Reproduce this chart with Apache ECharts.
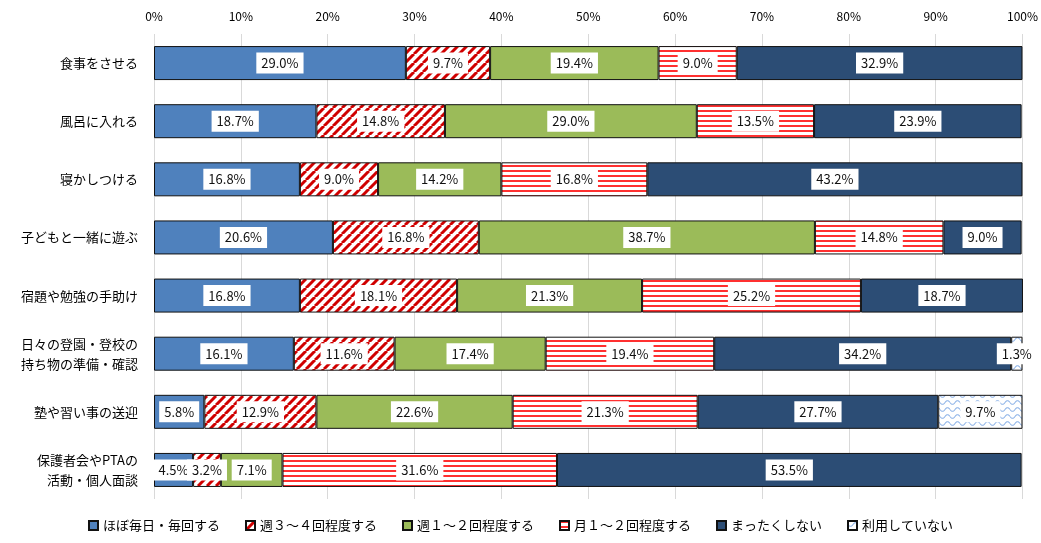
<!DOCTYPE html>
<html><head><meta charset="utf-8">
<script src="https://cdn.jsdelivr.net/npm/echarts@6/dist/echarts.min.js"></script>
<style>html,body{margin:0;padding:0;background:#fff}#c{width:1041px;height:543px}</style>
</head><body><div id="c"></div>
<script>
const categories = ['食事をさせる','風呂に入れる','寝かしつける','子どもと一緒に遊ぶ','宿題や勉強の手助け','日々の登園・登校の\n持ち物の準備・確認','塾や習い事の送迎','保護者会やPTAの\n活動・個人面談'];
const seriesNames = ['ほぼ毎日・毎回する','週３～４回程度する','週１～２回程度する','月１～２回程度する','まったくしない','利用していない'];
const daily   = [29.0, 18.7, 16.8, 20.6, 16.8, 16.1, 5.8, 4.5];
const week34  = [9.7, 14.8, 9.0, 16.8, 18.1, 11.6, 12.9, 3.2];
const week12  = [19.4, 29.0, 14.2, 38.7, 21.3, 17.4, 22.6, 7.1];
const month12 = [9.0, 13.5, 16.8, 14.8, 25.2, 19.4, 21.3, 31.6];
const never   = [32.9, 23.9, 43.2, 9.0, 18.7, 34.2, 27.7, 53.5];
const notUsed = [null, null, null, null, null, 1.3, 9.7, null];
const xTicks = [0,10,20,30,40,50,60,70,80,90,100];

function diag(){
  const c=document.createElement('canvas');c.width=9;c.height=9;const g=c.getContext('2d');
  g.fillStyle='#fff';g.fillRect(0,0,9,9);
  g.strokeStyle='#d00000';g.lineWidth=3;
  for(let k=-18;k<=18;k+=9){g.beginPath();g.moveTo(k,9);g.lineTo(k+9,0);g.stroke();}
  return {image:c,repeat:'repeat'};
}
function horiz(){
  const c=document.createElement('canvas');c.width=4;c.height=5;const g=c.getContext('2d');
  g.fillStyle='#fff';g.fillRect(0,0,4,5);
  g.fillStyle='#ff3030';g.fillRect(0,0,4,2);
  return {image:c,repeat:'repeat'};
}
function wave(){
  const c=document.createElement('canvas');c.width=10;c.height=7;const g=c.getContext('2d');
  g.fillStyle='#fff';g.fillRect(0,0,10,7);
  g.strokeStyle='#8fb4e8';g.lineWidth=1.1;
  g.beginPath();
  for(let x=0;x<=10;x+=0.5){const y=3.5+1.8*Math.sin(x/10*2*Math.PI);if(x===0)g.moveTo(x,y);else g.lineTo(x,y);}
  g.stroke();
  return {image:c,repeat:'repeat'};
}
const colors=['#4f81bd',diag(),'#9bbb59',horiz(),'#2c4d75',wave()];
const vals=[daily,week34,week12,month12,never,notUsed];

const chart=echarts.init(document.getElementById('c'));
const font='"Noto Sans CJK JP","Noto Sans",sans-serif';
chart.setOption({
  animation:false,
  grid:{left:154,right:18,top:34,bottom:44},
  legend:{bottom:6,left:'center',itemWidth:9,itemHeight:9,itemGap:25,icon:'rect',
    textStyle:{fontFamily:font,fontSize:13,color:'#000'},data:seriesNames},
  xAxis:{type:'value',position:'top',min:0,max:100,interval:10,
    axisLabel:{formatter:v=>xTicks.includes(v)?v+'%':'',fontFamily:font,fontSize:12,color:'#000',margin:12},
    axisLine:{show:false},axisTick:{show:false},
    splitLine:{lineStyle:{color:'#d9d9d9',width:1}}},
  yAxis:{type:'category',data:categories,inverse:true,
    axisLabel:{fontFamily:font,fontSize:13,color:'#000',margin:16,lineHeight:20,align:'right'},
    axisLine:{show:false},axisTick:{show:false}},
  series:seriesNames.map((n,i)=>({
    name:n,type:'bar',stack:'s',barWidth:34,
    data:vals[i],
    itemStyle:{color:colors[i],borderColor:'#111',borderWidth:1},
    label:{show:true,position:'inside',formatter:p=>p.value==null?'':p.value.toFixed(1)+'%',
      color:'#111',fontFamily:font,fontSize:13,backgroundColor:'#fff',padding:[4,5,4,5]}
  }))
});
</script></body></html>
